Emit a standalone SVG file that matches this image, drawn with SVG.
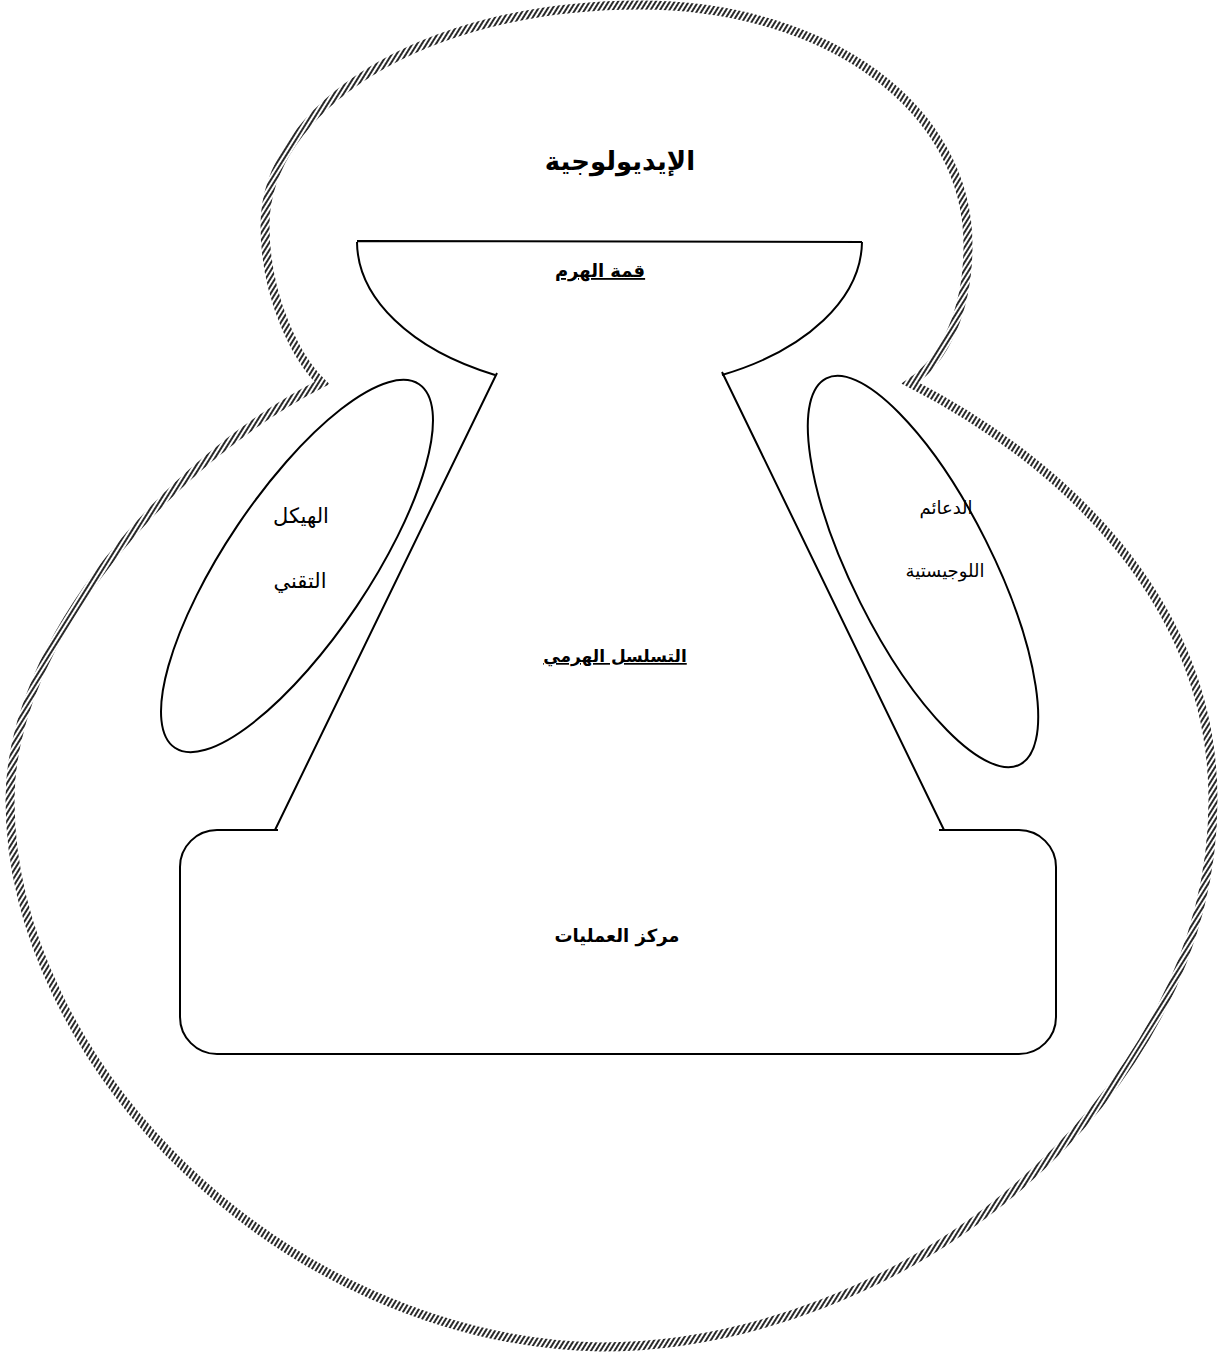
<svg xmlns="http://www.w3.org/2000/svg" width="1223" height="1355" viewBox="0 0 1223 1355">
<style>
.ln{fill:none;stroke:#000;stroke-width:2;stroke-linejoin:round}
.t{font-family:"DejaVu Sans",sans-serif;fill:#000;text-anchor:middle;direction:rtl}
.b{font-weight:bold}
</style>
<defs>
<pattern id="hatch" width="4" height="4" patternUnits="userSpaceOnUse" patternTransform="rotate(32)">
<line x1="1" y1="0" x2="1" y2="4" stroke="#111" stroke-width="1.8"/>
</pattern>
</defs>
<rect width="1223" height="1355" fill="#fff"/>
<g id="ideology">
<path d="M322,383 C298,360 265,300 265,225 C265,110 420,5 640,5 C830,5 968,110 968,245 C968,310 945,360 910,383 C1060,460 1213,600 1213,800 C1213,1100 900,1347 600,1347 C280,1340 10,1060 10,800 C10,640 170,460 322,383 Z" fill="none" stroke="url(#hatch)" stroke-width="9"/>
<text class="t b" x="620" y="170" font-size="26">الإيديولوجية</text>
</g>
<g id="strategic-apex">
<path class="ln" d="M357,241 L862,242 M357,242 A252,150 0 0 0 495,375 M862,242 A252,150 0 0 1 722,375"/>
<text class="t b" x="600" y="277" font-size="18" text-decoration="underline">قمة الهرم</text>
</g>
<g id="middle-line">
<path class="ln" d="M497,373 L275,830 M722,372 L944,830"/>
<text class="t b" x="615" y="662" font-size="17" text-decoration="underline">التسلسل الهرمي</text>
</g>
<g id="technostructure">
<ellipse class="ln" cx="297" cy="566" rx="219" ry="72" transform="rotate(-56.1 297 566)"/>
<text class="t" x="301" y="523" font-size="21">الهيكل</text>
<text class="t" x="300" y="588" font-size="21">التقني</text>
</g>
<g id="support-staff">
<ellipse class="ln" cx="923" cy="571.5" rx="216" ry="70" transform="rotate(63.4 923 571.5)"/>
<text class="t" x="946" y="514" font-size="18">الدعائم</text>
<text class="t" x="945" y="577" font-size="18">اللوجيستية</text>
</g>
<g id="operating-core">
<path class="ln" d="M278,830 L217,830 A37,37 0 0 0 180,867 L180,1017 A37,37 0 0 0 217,1054 L1019,1054 A37,37 0 0 0 1056,1017 L1056,867 A37,37 0 0 0 1019,830 L939,830"/>
<text class="t b" x="617" y="942" font-size="18">مركز العمليات</text>
</g>
<g id="connectors"></g>
</svg>
